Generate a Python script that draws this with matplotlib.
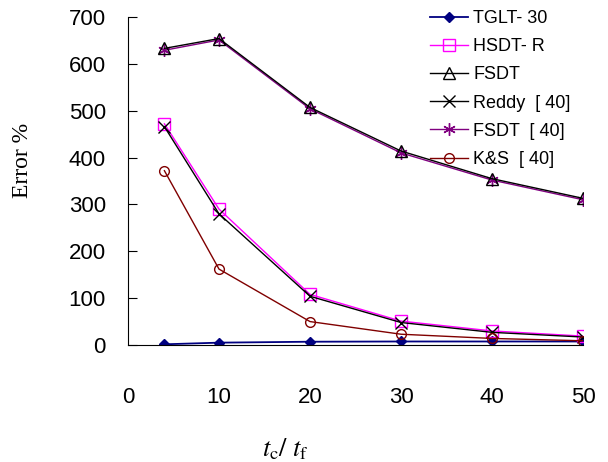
import matplotlib
matplotlib.use("Agg")
import matplotlib.pyplot as plt

plt.rcParams['font.family'] = ['Liberation Sans', 'DejaVu Sans']
plt.rcParams['mathtext.fontset'] = 'stix'

ratio = [4, 10, 20, 30, 40, 50]
tglt30 = [1.5, 5, 7, 7.5, 7.5, 7.5]
hsdt_r = [472, 290, 108, 51, 30, 19]
fsdt = [633, 654, 507, 414, 355, 313]
reddy40 = [466, 280, 104, 48, 27, 17]
fsdt40 = [629, 651, 504, 410, 352, 310]
ks40 = [372, 162, 50, 23, 14, 9]

xticks = [0, 10, 20, 30, 40, 50]
yticks = [0, 100, 200, 300, 400, 500, 600, 700]

fig = plt.figure(figsize=(6.08, 4.62), dpi=100)
ax = fig.add_axes([128 / 608, 1 - 345 / 462, 455 / 608, 328 / 462])

ax.plot(ratio, tglt30, color='#000080', lw=1.3, marker='D', ms=5,
        mfc='#000080', mec='#000080', label='TGLT- 30')
ax.plot(ratio, hsdt_r, color='#FF00FF', lw=1.0, marker='s', ms=8,
        mfc='none', mec='#FF00FF', label='HSDT- R')
ax.plot(ratio, fsdt40, color='#800080', lw=1.0, marker=(6, 2, 0), ms=9,
        mec='#800080', label='FSDT  [ 40]')
ax.plot(ratio, fsdt, color='black', lw=1.0, marker='^', ms=9,
        mfc='none', mec='black', label='FSDT')
ax.plot(ratio, reddy40, color='black', lw=1.0, marker='x', ms=9,
        mew=1.0, label='Reddy  [ 40]')
ax.plot(ratio, ks40, color='#800000', lw=1.0, marker='o', ms=7,
        mfc='none', mec='#800000', label='K&S  [ 40]')

ax.set_xlim(0, 50)
ax.set_ylim(0, 700)
ax.set_xticks(xticks)
ax.set_yticks(yticks)
ax.spines['top'].set_visible(False)
ax.spines['right'].set_visible(False)
ax.tick_params(axis='x', length=0, pad=30, labelsize=16)
ax.tick_params(axis='y', direction='in', length=6.5, width=0.8, pad=16, labelsize=16)

fig.text(23 / 608, 1 - 160 / 462, 'Error %', rotation=90, ha='center', va='center',
         family='Liberation Serif', fontsize=17)
fig.text(285 / 608, 1 - 449 / 462, r'$t_{\mathrm{c}}/\ t_{\mathrm{f}}$',
         ha='center', va='center', fontsize=19)

handles, labels = ax.get_legend_handles_labels()
order = [0, 1, 3, 4, 2, 5]
ax.legend([handles[i] for i in order], [labels[i] for i in order],
          loc='upper left', bbox_to_anchor=(430 / 608, 1 - 10 / 462),
          bbox_transform=fig.transFigure, frameon=False, fontsize=13,
          handlelength=2.1, handletextpad=0.3, labelspacing=0.62, borderpad=0,
          borderaxespad=0)

fig.savefig('out.png', dpi=100)
